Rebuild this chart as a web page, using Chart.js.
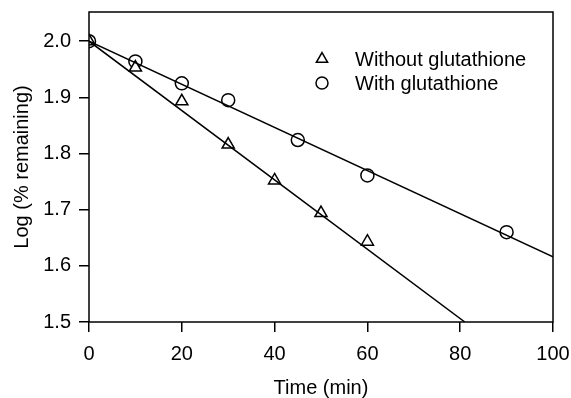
<!DOCTYPE html>
<html>
<head>
<meta charset="utf-8">
<script src="https://cdn.jsdelivr.net/npm/chart.js@4"></script>
<style>
  html, body { margin: 0; padding: 0; background: #fff; }
  #wrap { width: 571px; height: 398px; }
</style>
</head>
<body>
<div id="wrap"><canvas id="chart"></canvas></div>
<script>
// values
const timeWithout = [0, 10, 20, 30, 40, 50, 60];
const logWithout = [2.0, 1.953, 1.893, 1.816, 1.752, 1.694, 1.643];
const timeWith = [0, 10, 20, 30, 45, 60, 90];
const logWith = [2.0, 1.964, 1.925, 1.895, 1.824, 1.761, 1.66];
// fitted straight lines (end points as drawn)
const fitWithoutX = [0, 81];
const fitWithoutY = [2.0, 1.5];
const fitWithX = [0, 100];
const fitWithY = [2.0, 1.616];
const xTicks = [0, 20, 40, 60, 80, 100];
const yTicks = [1.5, 1.6, 1.7, 1.8, 1.9, 2.0];
const legendLabels = ['Without glutathione', 'With glutathione'];

const FONT = 'Liberation Sans, Arial, Helvetica, sans-serif';

function pairs(xs, ys) {
  return xs.map((x, i) => ({ x: x, y: ys[i] }));
}

// box round the plot area plus the legend inside it
const framePlugin = {
  id: 'frame',
  afterDatasetsDraw(chart) {
    const { ctx, chartArea } = chart;
    ctx.save();
    ctx.strokeStyle = '#000';
    ctx.lineWidth = 1.5;
    ctx.strokeRect(chartArea.left, chartArea.top, chartArea.right - chartArea.left, chartArea.bottom - chartArea.top);

    const styles = ['triangle', 'circle'];
    const radii = [6.5, 6];
    const mx = chartArea.left + 233;
    const tx = chartArea.left + 266;
    const rows = [chartArea.top + 47, chartArea.top + 71];
    ctx.font = '20px ' + FONT;
    ctx.textBaseline = 'middle';
    ctx.textAlign = 'left';
    legendLabels.forEach((label, i) => {
      ctx.fillStyle = '#fff';
      ctx.strokeStyle = '#000';
      ctx.lineWidth = 1.5;
      Chart.helpers.drawPoint(ctx, { pointStyle: styles[i], radius: radii[i], borderWidth: 1.5, rotation: 0 }, mx, rows[i]);
      ctx.fillStyle = '#000';
      ctx.fillText(label, tx, rows[i] + 1);
    });
    ctx.restore();
  }
};

new Chart(document.getElementById('chart'), {
  type: 'scatter',
  data: {
    datasets: [
      {
        type: 'line',
        data: pairs(fitWithoutX, fitWithoutY),
        borderColor: '#000',
        borderWidth: 1.5,
        pointRadius: 0,
        fill: false
      },
      {
        type: 'line',
        data: pairs(fitWithX, fitWithY),
        borderColor: '#000',
        borderWidth: 1.5,
        pointRadius: 0,
        fill: false
      },
      {
        label: legendLabels[0],
        data: pairs(timeWithout, logWithout),
        pointStyle: 'triangle',
        pointRadius: 7,
        backgroundColor: '#fff',
        borderColor: '#000',
        borderWidth: 1.5
      },
      {
        label: legendLabels[1],
        data: pairs(timeWith, logWith),
        pointStyle: 'circle',
        pointRadius: 6.5,
        backgroundColor: '#fff',
        borderColor: '#000',
        borderWidth: 1.5
      }
    ]
  },
  options: {
    responsive: true,
    maintainAspectRatio: false,
    animation: false,
    layout: { padding: { left: 0, right: 18, top: 12, bottom: 0 } },
    plugins: {
      legend: { display: false },
      tooltip: { enabled: false }
    },
    scales: {
      x: {
        type: 'linear',
        min: 0,
        max: 100,
        afterBuildTicks(scale) { scale.ticks = xTicks.map(v => ({ value: v })); },
        afterFit(scale) {
          scale.height = 76;
          scale.paddingLeft = 0;
          scale.paddingRight = 0;
        },
        grid: { drawOnChartArea: false, drawTicks: true, tickLength: 10, color: '#000', lineWidth: 1.5 },
        border: { display: false },
        ticks: { color: '#000', font: { family: FONT, size: 20 }, padding: 10, maxRotation: 0 },
        title: { display: true, text: 'Time (min)', color: '#000', font: { family: FONT, size: 20 }, padding: { top: 0, bottom: -2 } }
      },
      y: {
        type: 'linear',
        min: 1.5,
        max: 2.052,
        afterBuildTicks(scale) { scale.ticks = yTicks.map(v => ({ value: v })); },
        afterFit(scale) {
          scale.width = 89;
          scale.paddingTop = 0;
          scale.paddingBottom = 0;
        },
        grid: { drawOnChartArea: false, drawTicks: true, tickLength: 10, color: '#000', lineWidth: 1.5 },
        border: { display: false },
        ticks: { color: '#000', font: { family: FONT, size: 20 }, padding: 8, callback: v => v.toFixed(1) },
        title: { display: true, text: 'Log (% remaining)', color: '#000', font: { family: FONT, size: 20 }, padding: { top: 10, bottom: 0 } }
      }
    }
  },
  plugins: [framePlugin]
});
</script>
</body>
</html>
